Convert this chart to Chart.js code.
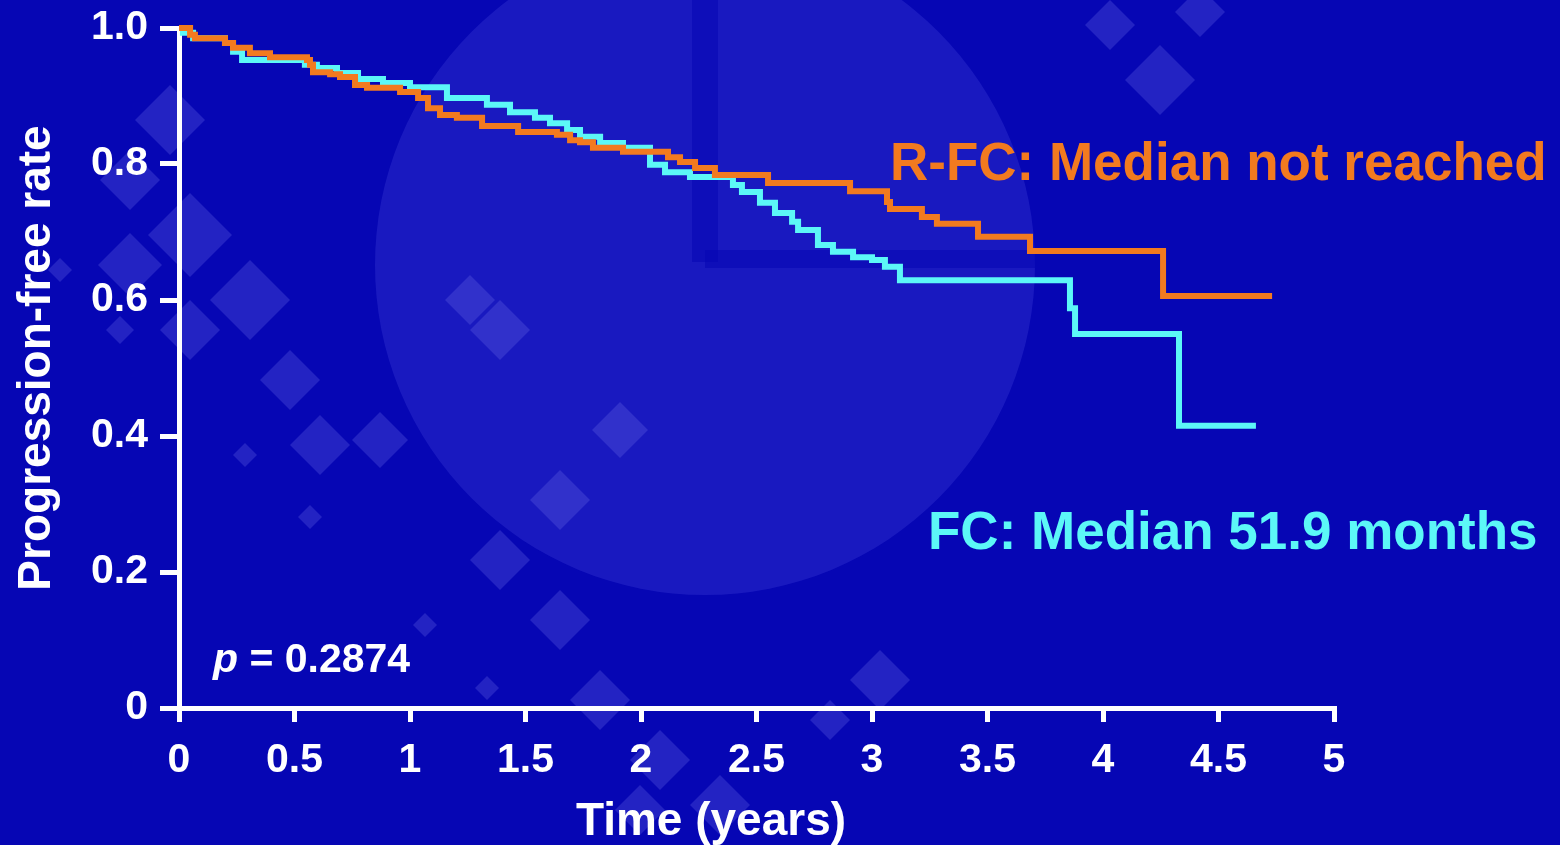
<!DOCTYPE html>
<html>
<head>
<meta charset="utf-8">
<script src="https://cdn.jsdelivr.net/npm/chart.js@4.4.0/dist/chart.umd.min.js"></script>
<style>
  html, body { margin: 0; padding: 0; background: #0606b4; }
  #wrap { width: 1560px; height: 845px; position: relative; }
</style>
</head>
<body>
<div id="wrap"><canvas id="km"></canvas></div>
<script>
// ===== data =====
const rfcTimes = [0, 0.048, 0.069, 0.199, 0.234, 0.307, 0.394, 0.554, 0.567, 0.580, 0.654, 0.697, 0.762, 0.814, 0.957,
  1.035, 1.078, 1.130, 1.203, 1.312, 1.468, 1.636, 1.693, 1.736, 1.792, 1.922, 2.117, 2.169, 2.234, 2.320, 2.550,
  2.905, 3.065, 3.078, 3.216, 3.281, 3.459, 3.684, 4.260, 4.732];
const rfcRates = [1.0, 0.990, 0.985, 0.978, 0.971, 0.963, 0.957, 0.953, 0.946, 0.935, 0.932, 0.928, 0.916, 0.912, 0.906,
  0.897, 0.882, 0.872, 0.868, 0.856, 0.847, 0.843, 0.835, 0.832, 0.824, 0.818, 0.810, 0.803, 0.794, 0.784, 0.772,
  0.760, 0.744, 0.734, 0.722, 0.712, 0.693, 0.672, 0.606, 0.606];

const fcTimes = [0, 0.017, 0.061, 0.199, 0.234, 0.273, 0.545, 0.597, 0.684, 0.775, 0.883, 1.0, 1.160, 1.333, 1.433,
  1.541, 1.606, 1.680, 1.736, 1.823, 1.922, 2.039, 2.104, 2.212, 2.398, 2.437, 2.515, 2.580, 2.654, 2.680, 2.766,
  2.831, 2.918, 3.0, 3.056, 3.121, 3.857, 3.879, 4.329, 4.662];
const fcRates = [1.0, 0.993, 0.985, 0.978, 0.965, 0.953, 0.946, 0.941, 0.934, 0.925, 0.919, 0.913, 0.897, 0.887, 0.876,
  0.868, 0.860, 0.850, 0.840, 0.831, 0.824, 0.799, 0.788, 0.781, 0.769, 0.759, 0.743, 0.728, 0.715, 0.703, 0.681,
  0.671, 0.663, 0.659, 0.649, 0.629, 0.588, 0.550, 0.415, 0.415];

const xTicks = [0, 0.5, 1, 1.5, 2, 2.5, 3, 3.5, 4, 4.5, 5];
const xTickLabels = ['0', '0.5', '1', '1.5', '2', '2.5', '3', '3.5', '4', '4.5', '5'];
const yTicks = [0, 0.2, 0.4, 0.6, 0.8, 1.0];
const yTickLabels = ['0', '0.2', '0.4', '0.6', '0.8', '1.0'];

const FONT = '"Liberation Sans", Arial, sans-serif';
const ORANGE = '#f27a1f';
const CYAN = '#5cf7f7';

const toPoints = (ts, vs) => ts.map((t, i) => ({ x: t, y: vs[i] }));

// background: dark blue with faint decorative shapes
const backdrop = {
  id: 'backdrop',
  beforeDraw(chart) {
    const c = chart.ctx;
    c.save();
    c.fillStyle = '#0606b4';
    c.fillRect(0, 0, chart.width, chart.height);

    c.fillStyle = 'rgba(95,95,235,0.22)';
    c.beginPath();
    c.arc(705, 265, 330, 0, Math.PI * 2);
    c.fill();
    c.fillStyle = 'rgba(6,6,180,0.6)';
    c.fillRect(692, 0, 26, 262);
    c.fillRect(705, 250, 340, 18);

    const diamonds = [
      [170, 120, 35], [130, 180, 30], [130, 265, 32], [190, 235, 42], [250, 300, 40], [190, 330, 30],
      [320, 445, 30], [245, 455, 12], [310, 517, 12], [380, 440, 28], [290, 380, 30], [500, 330, 30],
      [470, 300, 25], [60, 270, 12], [120, 330, 14], [500, 560, 30], [560, 500, 30], [620, 430, 28],
      [560, 620, 30], [600, 700, 30], [660, 760, 30], [720, 805, 30], [830, 720, 20], [880, 680, 30],
      [487, 688, 12], [425, 625, 12], [1110, 25, 25], [1160, 80, 35], [1200, 12, 25], [640, 810, 25]
    ];
    c.fillStyle = 'rgba(110,110,235,0.28)';
    diamonds.forEach(([x, y, r]) => {
      c.beginPath();
      c.moveTo(x, y - r); c.lineTo(x + r, y); c.lineTo(x, y + r); c.lineTo(x - r, y);
      c.closePath();
      c.fill();
    });
    c.restore();
  }
};

// titles and annotations
const labels = {
  id: 'labels',
  afterDraw(chart) {
    const c = chart.ctx;
    c.save();
    c.textBaseline = 'alphabetic';

    c.fillStyle = '#ffffff';
    c.font = 'bold 46px ' + FONT;
    c.textAlign = 'center';
    c.fillText('Time (years)', 711, 835);

    c.save();
    c.translate(50, 358);
    c.rotate(-Math.PI / 2);
    c.fillText('Progression-free rate', 0, 0);
    c.restore();

    c.textAlign = 'left';
    c.font = 'bold 53px ' + FONT;
    c.fillStyle = ORANGE;
    c.fillText('R-FC: Median not reached', 890, 180);
    c.fillStyle = CYAN;
    c.fillText('FC: Median 51.9 months', 928, 549);

    c.fillStyle = '#ffffff';
    c.font = 'italic bold 41px ' + FONT;
    c.fillText('p', 213, 672);
    const pw = c.measureText('p').width;
    c.font = 'bold 41px ' + FONT;
    c.fillText(' = 0.2874', 213 + pw, 672);
    c.restore();
  }
};

new Chart(document.getElementById('km'), {
  type: 'line',
  data: {
    datasets: [
      {
        label: 'R-FC',
        data: toPoints(rfcTimes, rfcRates),
        borderColor: ORANGE,
        borderWidth: 6,
        stepped: 'before',
        pointRadius: 0,
        fill: false,
        clip: 10
      },
      {
        label: 'FC',
        data: toPoints(fcTimes, fcRates),
        borderColor: CYAN,
        borderWidth: 6,
        stepped: 'before',
        pointRadius: 0,
        fill: false,
        clip: 10
      }
    ]
  },
  options: {
    responsive: true,
    maintainAspectRatio: false,
    animation: false,
    layout: { padding: { top: 28, right: 226, left: 0, bottom: 0 } },
    plugins: { legend: { display: false }, tooltip: { enabled: false } },
    scales: {
      x: {
        type: 'linear',
        min: 0,
        max: 5,
        afterBuildTicks: s => { s.ticks = xTicks.map(v => ({ value: v })); },
        afterFit: s => { s.height = 137; s.paddingLeft = 0; s.paddingRight = 0; },
        grid: { drawOnChartArea: false, color: '#ffffff', lineWidth: 5, tickLength: 14 },
        border: { color: '#ffffff', width: 5 },
        ticks: {
          color: '#ffffff',
          padding: 14,
          maxRotation: 0,
          font: { family: FONT, weight: 'bold', size: 41 },
          callback: (v, i) => xTickLabels[i]
        }
      },
      y: {
        min: 0,
        max: 1,
        afterBuildTicks: s => { s.ticks = yTicks.map(v => ({ value: v })); },
        afterFit: s => { s.width = 179; s.paddingTop = 0; s.paddingBottom = 0; },
        grid: { drawOnChartArea: false, color: '#ffffff', lineWidth: 5, tickLength: 19 },
        border: { color: '#ffffff', width: 5 },
        ticks: {
          color: '#ffffff',
          padding: 12,
          font: { family: FONT, weight: 'bold', size: 41 },
          callback: (v, i) => yTickLabels[i]
        }
      }
    }
  },
  plugins: [backdrop, labels]
});
</script>
</body>
</html>
